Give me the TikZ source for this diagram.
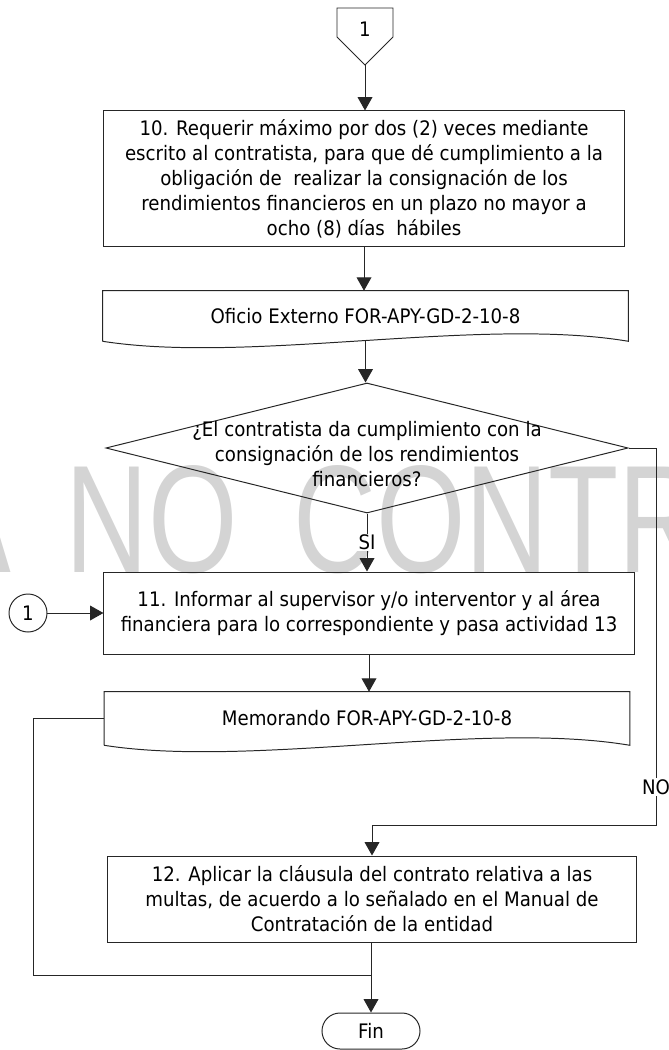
\documentclass[tikz,border=0pt]{standalone}
\usepackage{fontspec}
\setmainfont{DejaVu Sans}[FakeStretch=0.91]
\newfontfamily\marcafont{Liberation Sans}
\usetikzlibrary{arrows.meta,shapes.geometric}

\begin{document}
\begin{tikzpicture}[x=0.025cm,y=-0.025cm,
    font=\fontsize{14.2}{17.8}\selectfont,
    linea/.style={draw=black!85,line width=0.7pt},
    flecha/.style={linea,-{Triangle[width=10.5pt,length=9.5pt]}},
    caja/.style={linea,rectangle,align=center,inner sep=0pt},
    etiq/.style={fill=white,inner sep=1pt}]
  \useasboundingbox (0,0) rectangle (669,1050);
  \clip (0,0) rectangle (669,1050);
  \node[anchor=base west,inner sep=0pt,text=black!17,font=\marcafont\fontsize{109}{112}\selectfont] (marca) at (-347,572) {\scalebox{0.75}[1]{COPIA\hspace{52pt}NO\hspace{52pt}CONTROLADA}};

  \node (c1) at (365,29) {1};
  \coordinate (c1p) at (365,65);
  \draw[linea] (337,8) -- (393,8) -- (393,37) -- (c1p) -- (337,37) -- cycle;

  \node[caja,minimum width=13.025cm,minimum height=3.375cm] (b10) at (364,178.5) {10. Requerir máximo por dos (2) veces mediante\\escrito al contratista, para que dé cumplimiento a la\\obligación de \ realizar la consignación de los\\rendimientos financieros en un plazo no mayor a\\ocho (8) días \ hábiles};
  \draw[flecha] (c1p) -- (c1p |- b10.north);

  \node[minimum width=13.125cm,minimum height=1.25cm,inner sep=0pt] (d1) at (365.5,316) {Oficio Externo FOR-APY-GD-2-10-8};
  \draw[linea] (d1.south west) -- (d1.north west) -- (d1.north east) -- (d1.south east) .. controls +(-148,-25) and +(147,23) .. (d1.south west);
  \draw[flecha] (b10.south) -- (b10.south |- d1.north);

  \node[linea,diamond,minimum width=13.05cm,minimum height=3.25cm,inner sep=0pt] (q) at (367,448) {};
  \node[align=center] (qt) at (367,454) {¿El contratista da cumplimiento con la\\consignación de los rendimientos\\financieros?};
  \draw[flecha] (d1.south) -- (d1.south |- q.north);

  \node[caja,minimum width=13.25cm,minimum height=2.05cm] (b11) at (369,613) {11. Informar al supervisor y/o interventor y al área\\financiera para lo correspondiente y pasa actividad 13};
  \draw[flecha] (q.south) -- node[etiq] {SI} (q.south |- b11.north);

  \node[linea,circle,minimum size=0.95cm,inner sep=0pt] (r1) at (28,613) {1};
  \draw[flecha] (r1) -- (b11.west);

  \node[minimum width=13.125cm,minimum height=1.325cm,inner sep=0pt] (d2) at (367,718.5) {Memorando FOR-APY-GD-2-10-8};
  \draw[linea] (d2.south west) -- (d2.north west) -- (d2.north east) -- (d2.south east) .. controls +(-148,-25) and +(147,23) .. (d2.south west);
  \draw[flecha] (b11.south) -- (b11.south |- d2.north);

  \node[caja,minimum width=13.2cm,minimum height=2.15cm] (b12) at (372,899) {12. Aplicar la cláusula del contrato relativa a las\\multas, de acuerdo a lo señalado en el Manual de\\Contratación de la entidad};
  \coordinate (giro) at (656,825);
  \draw[flecha] (q.east) -| node[etiq,pos=0.95] {NO} (giro) -| (b12.north);

  \node[linea,rounded corners=0.45cm,minimum width=2.45cm,minimum height=0.9cm] (fin) at (371,1031) {Fin};
  \coordinate (union) at (371,975);
  \draw[flecha] (b12.south -| fin.north) -- (fin.north);
  \draw[linea] (d2.west) -| (33,975) -- (union);
\end{tikzpicture}
\end{document}
